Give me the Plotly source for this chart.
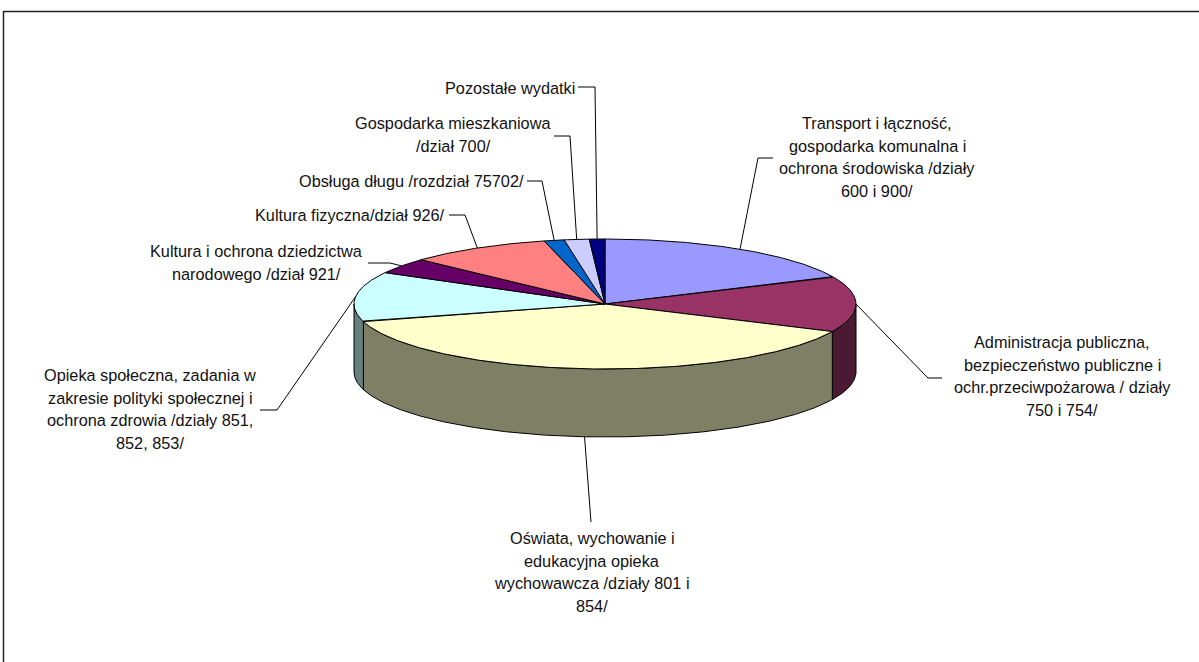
import numpy as np
import plotly.graph_objects as go

# ---------------- data ----------------
categories = [
    "Transport i łączność, gospodarka komunalna i ochrona środowiska /działy 600 i 900/",
    "Administracja publiczna, bezpieczeństwo publiczne i ochr.przeciwpożarowa / działy 750 i 754/",
    "Oświata, wychowanie i edukacyjna opieka wychowawcza /działy 801 i 854/",
    "Opieka społeczna, zadania w zakresie polityki społecznej i ochrona zdrowia /działy 851, 852, 853/",
    "Kultura i ochrona dziedzictwa narodowego /dział 921/",
    "Kultura fizyczna/dział 926/",
    "Obsługa długu /rozdział 75702/",
    "Gospodarka mieszkaniowa /dział 700/",
    "Pozostałe wydatki",
]
values = [18.1, 13.9, 38.7, 12.4, 3.9, 9.2, 1.3, 1.6, 1.0]  # share of expenses, %
label_lines = [
    ["Transport i łączność,", "gospodarka komunalna i", "ochrona środowiska /działy", "600 i 900/"],
    ["Administracja publiczna,", "bezpieczeństwo publiczne i", "ochr.przeciwpożarowa / działy", "750 i 754/"],
    ["Oświata, wychowanie i", "edukacyjna opieka", "wychowawcza /działy 801 i", "854/"],
    ["Opieka społeczna, zadania w", "zakresie polityki społecznej i", "ochrona zdrowia /działy 851,", "852, 853/"],
    ["Kultura i ochrona dziedzictwa", "narodowego /dział 921/"],
    ["Kultura fizyczna/dział 926/"],
    ["Obsługa długu /rozdział 75702/"],
    ["Gospodarka mieszkaniowa", "/dział 700/"],
    ["Pozostałe wydatki"],
]
colors = ["#9999FF", "#993366", "#FFFFCC", "#CCFFFF", "#660066",
          "#FF8080", "#0066CC", "#CCCCFF", "#000080"]

# ---------------- layout / style ----------------
W, H = 1199, 662
CX, CY, RX, RY, DEPTH = 605, 304, 251, 65, 68
FONT = "Liberation Sans, Arial, sans-serif"
FSIZE = 16.3
LINE_H = 22.7
# label block centre x, first line y
label_pos = [(877, 123), (1062, 342), (592, 538), (150, 375), (256, 251),
             (350, 215), (411, 181), (453, 123), (510, 88)]
# leader start (at label) and elbow point
leader_start = [(773, 158), (942, 378), (591, 522), (260, 410), (368, 263),
                (449, 215), (527, 181), (554, 136), (578, 87)]
leader_elbow = [(758, 158), (928, 378), None, (277, 410), (390, 263),
                (465, 215), (542, 181), (570, 136), (595, 87)]


def darker(hexc, f=0.5):
    h = hexc.lstrip("#")
    r, g, b = (int(h[i:i + 2], 16) for i in (0, 2, 4))
    return "#%02X%02X%02X" % (int(r * f), int(g * f), int(b * f))


def pt(t_deg, dy=0.0):
    t = np.radians(t_deg)
    return CX + RX * np.sin(t), CY - RY * np.cos(t) + dy


fig = go.Figure()

total = float(sum(values))
angles = np.cumsum([0.0] + [v / total * 360.0 for v in values])

# side faces (visible front half: 90..270 deg)
for i in range(len(values)):
    a0, a1 = angles[i], angles[i + 1]
    s0, s1 = max(a0, 90.0), min(a1, 270.0)
    if s1 <= s0:
        continue
    ts = np.linspace(s0, s1, max(2, int((s1 - s0) * 2)))
    xt, yt = pt(ts)
    xb, yb = pt(ts[::-1], DEPTH)
    xs = np.concatenate([xt, xb, xt[:1]])
    ys = np.concatenate([yt, yb, yt[:1]])
    fig.add_trace(go.Scatter(x=xs, y=ys, mode="lines", fill="toself",
                             fillcolor=darker(colors[i]),
                             line=dict(color="black", width=1),
                             hoverinfo="skip", showlegend=False))

# top faces
for i in range(len(values)):
    a0, a1 = angles[i], angles[i + 1]
    ts = np.linspace(a0, a1, max(2, int((a1 - a0) * 2)))
    xa, ya = pt(ts)
    xs = np.concatenate([[CX], xa, [CX]])
    ys = np.concatenate([[CY], ya, [CY]])
    fig.add_trace(go.Scatter(x=xs, y=ys, mode="lines", fill="toself",
                             fillcolor=colors[i],
                             line=dict(color="black", width=1),
                             name=categories[i], hoverinfo="name",
                             showlegend=False))

# leader lines
for i in range(len(values)):
    mid = (angles[i] + angles[i + 1]) / 2.0
    front = np.cos(np.radians(mid)) < -0.5
    mx, my = pt(mid, DEPTH if front else 0.0)
    pts = [leader_start[i]]
    if leader_elbow[i] is not None:
        pts.append(leader_elbow[i])
    pts.append((mx, my))
    fig.add_trace(go.Scatter(x=[p[0] for p in pts], y=[p[1] for p in pts],
                             mode="lines", line=dict(color="black", width=1),
                             hoverinfo="skip", showlegend=False))

# labels
for i, lines in enumerate(label_lines):
    lx, ly = label_pos[i]
    for k, txt in enumerate(lines):
        fig.add_annotation(x=lx, y=ly + k * LINE_H, text=txt, showarrow=False,
                           xanchor="center", yanchor="middle",
                           font=dict(family=FONT, size=FSIZE, color="#111111"))

# chart frame
fig.add_shape(type="rect", x0=3.5, y0=11.5, x1=W + 10, y1=H + 10,
              line=dict(color="#222222", width=1.5), fillcolor="rgba(0,0,0,0)")

fig.update_layout(
    width=W, height=H,
    margin=dict(l=0, r=0, t=0, b=0),
    paper_bgcolor="white", plot_bgcolor="white",
    xaxis=dict(range=[0, W], visible=False, fixedrange=True),
    yaxis=dict(range=[H, 0], visible=False, fixedrange=True),
    showlegend=False,
)

fig.write_html("out.html", config={"displayModeBar": False},
               post_script="document.body.style.margin='0';document.body.style.overflow='hidden';")
